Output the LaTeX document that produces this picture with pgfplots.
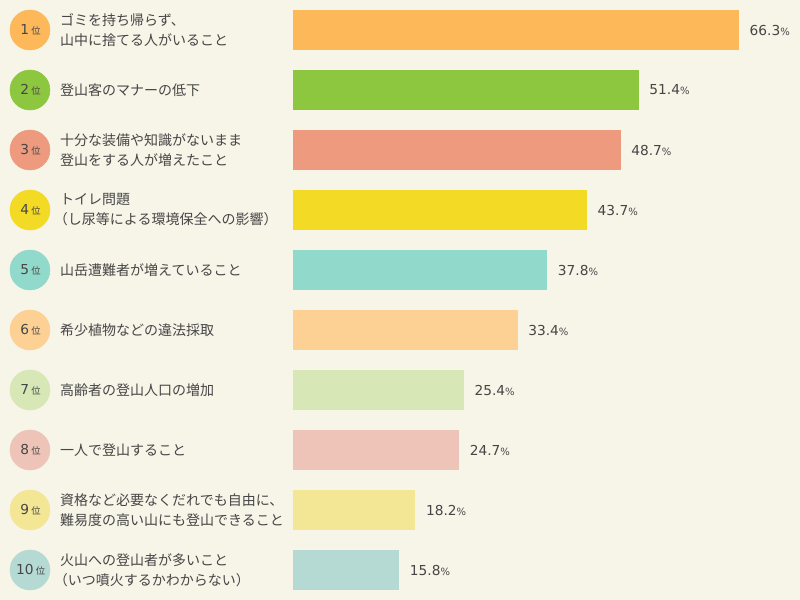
\documentclass[border=0pt]{standalone}
\usepackage{fontspec}
\setmainfont{Noto Sans CJK JP}
\newfontfamily\numfont{DejaVu Sans}
\usepackage{pgfplots}
\pgfplotsset{compat=1.18}

\definecolor{bg}{HTML}{F7F4E8}
\definecolor{txt}{HTML}{464646}
\definecolor{c1}{HTML}{FDB85A}
\definecolor{c2}{HTML}{8DC63F}
\definecolor{c3}{HTML}{ED9A7E}
\definecolor{c4}{HTML}{F2DA25}
\definecolor{c5}{HTML}{91D9CB}
\definecolor{c6}{HTML}{FDD094}
\definecolor{c7}{HTML}{D8E7B6}
\definecolor{c8}{HTML}{EEC4B8}
\definecolor{c9}{HTML}{F3E695}
\definecolor{c10}{HTML}{B5DAD3}

% one ranking row: position, value, colour, rank, label
\newcommand\rank[5]{%
  \addplot[xbar, bar width=30pt, bar shift=0pt, draw=none, fill=#3,
    point meta=x, nodes near coords={\numfont\pgfmathprintnumber[fixed,fixed zerofill,precision=1,assume math mode=true]{\pgfplotspointmeta}{\fontsize{7.5}{8}\selectfont\%}},
    nodes near coords style={anchor=west, xshift=4.5pt, text=txt, font=\fontsize{10.3}{12}\selectfont}]
    coordinates {(#2,#1)};
  \addplot[only marks, mark=*, mark size=15pt, color=#3, point meta=x,
    nodes near coords={\numfont #4\,{\fontsize{7}{8}\selectfont\rmfamily 位}},
    nodes near coords style={anchor=center, xshift=0.5pt, text=txt, font=\fontsize{10.3}{12}\selectfont}]
    coordinates {(-39.1,#1)};
  \node[anchor=west, inner sep=0pt, align=left, text=txt, font=\fontsize{10.5}{15}\selectfont] at (axis cs:-34.64,#1) {#5};
}

\begin{document}
\begin{tikzpicture}
\path[use as bounding box, fill=bg] (0,0) rectangle (600pt,450pt);
\begin{axis}[
  at={(0,0)}, anchor=south west,
  scale only axis, width=600pt, height=450pt,
  xmin=-43.556, xmax=75.368, ymin=0.5, ymax=10.5,
  y dir=reverse, hide axis, clip=false]
\rank{1}{66.3}{c1}{1}{ゴミを持ち帰らず、\\山中に捨てる人がいること}
\rank{2}{51.4}{c2}{2}{登山客のマナーの低下}
\rank{3}{48.7}{c3}{3}{十分な装備や知識がないまま\\登山をする人が増えたこと}
\rank{4}{43.7}{c4}{4}{トイレ問題\\\hspace*{-0.45em}（し尿等による環境保全への影響）}
\rank{5}{37.8}{c5}{5}{山岳遭難者が増えていること}
\rank{6}{33.4}{c6}{6}{希少植物などの違法採取}
\rank{7}{25.4}{c7}{7}{高齢者の登山人口の増加}
\rank{8}{24.7}{c8}{8}{一人で登山すること}
\rank{9}{18.2}{c9}{9}{資格など必要なくだれでも自由に、\\難易度の高い山にも登山できること}
\rank{10}{15.8}{c10}{10}{火山への登山者が多いこと\\\hspace*{-0.45em}（いつ噴火するかわからない）}
\end{axis}
\end{tikzpicture}
\end{document}
